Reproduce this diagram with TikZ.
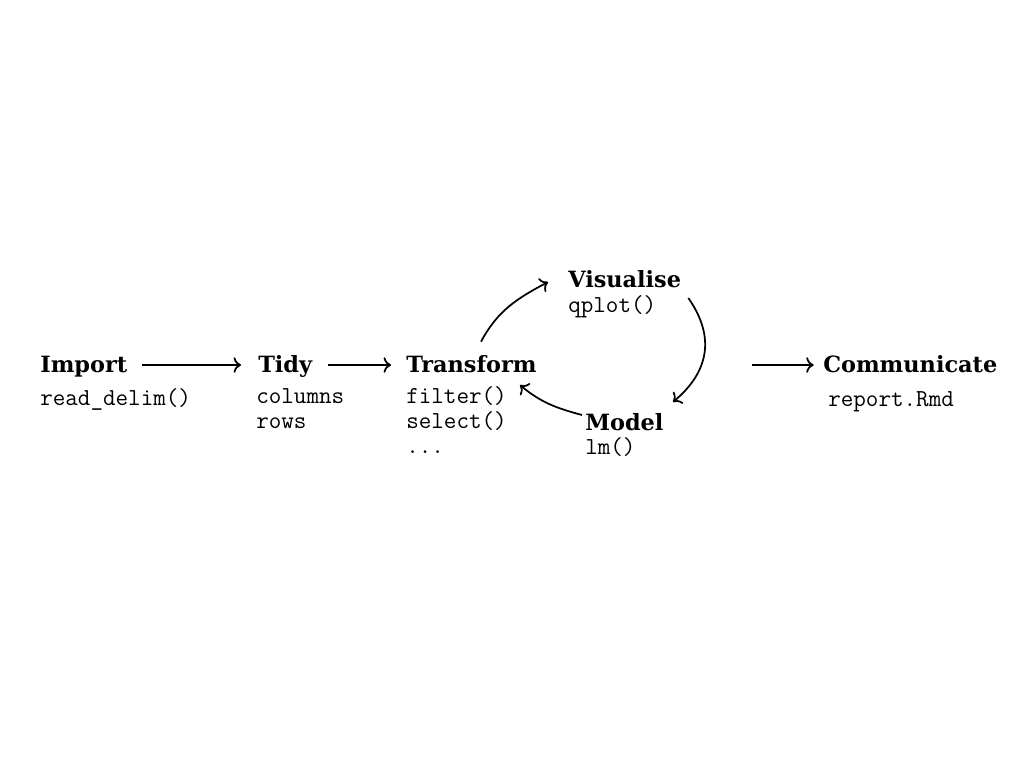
\documentclass[tikz,border=0pt]{standalone}
\usepackage{fontspec}
\newfontfamily\stagefont{DejaVu Serif}
\usetikzlibrary{positioning,arrows.meta}
\tikzstyle{stage}=[inner sep=0pt, anchor=base west, font=\stagefont\bfseries\fontsize{16.8}{20}\selectfont]
\tikzstyle{code}=[inner sep=0pt, anchor=base west, font=\ttfamily\fontsize{18.3}{20}\selectfont]
\tikzset{flow/.style={-{To[scale=1.25]}, line width=1.3pt}}

\begin{document}
\begin{tikzpicture}[x=0.75pt, y=-0.75pt]
    \useasboundingbox (0,0) rectangle (1024,768);
    % stages
    \node[stage] (imp) at (40,372) {Import};
    \node[code] (imp1) at (40,405) {read\_delim()};
    \node[stage] (tidy) at (258,372) {Tidy};
    \node[code] (tidy1) at (256,403) {columns};
    \node[code] (tidy2) at (256,428) {rows};
    \node[stage] (trans) at (406,372) {Transform};
    \node[code] (trans1) at (406,403) {filter()};
    \node[code] (trans2) at (406,428) {select()};
    \node[code] (trans3) at (406,453) {...};
    \node[stage] (vis) at (568,287) {Visualise};
    \node[code] (vis1) at (568,312) {qplot()};
    \node[stage] (mod) at (585,430) {Model};
    \node[code] (mod1) at (585,454) {lm()};
    \node[stage] (comm) at (823,372) {Communicate};
    \node[code] (comm1) at (828,406) {report.Rmd};
    \coordinate (cyc) at (752,365);
    % arrows
    \draw[flow] ([shift={(15,-7)}]imp.base east) -- ([shift={(-17,-7)}]tidy.base west);
    \draw[flow] ([shift={(16,-7)}]tidy.base east) -- ([shift={(-15,-7)}]trans.base west);
    \draw[flow] ([shift={(75,-13)}]trans.north west) to[out=62, in=208] ([shift={(-20,-5)}]vis.base west);
    \draw[flow] ([shift={(7,11)}]vis.base east) to[out=-55, in=40, looseness=1.15] ([shift={(88,-28)}]mod.base west);
    \draw[flow] ([shift={(-3,-15)}]mod.base west) to[out=165, in=-40] ([shift={(114,13)}]trans.base west);
    \draw[flow] (cyc) -- ([xshift=-7pt]comm.west |- cyc);
\end{tikzpicture}
\end{document}
